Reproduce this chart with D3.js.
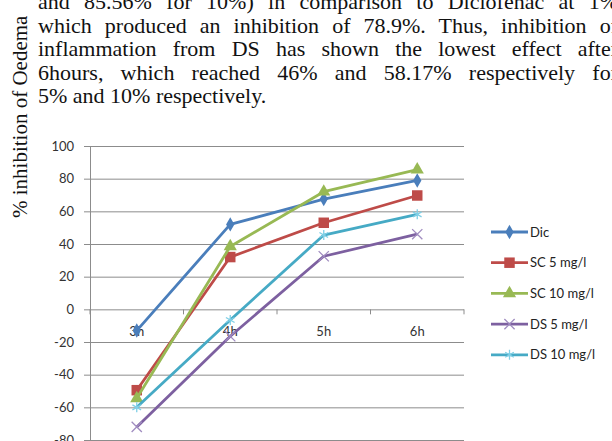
<!DOCTYPE html>
<html>
<head>
<meta charset="utf-8">
<script src="https://cdn.jsdelivr.net/npm/d3@7"></script>
<style>
  body { margin: 0; background: #fff; }
  svg { display: block; }
</style>
</head>
<body>
<div id="chart"></div>
<script>
// % inhibition of oedema line chart (with the paragraph above it)

const width = 612,
    height = 441,
    margin = ({ top: 146, right: 148, bottom: 1, left: 90 });

const hours = ["3h", "4h", "5h", "6h"];
const yTicks = [-80, -60, -40, -20, 0, 20, 40, 60, 80, 100];
const seriesNames = ["Dic", "SC 5 mg/l", "SC 10 mg/l", "DS 5 mg/l", "DS 10 mg/l"];
const dic = [-13, 52, 67.5, 78.9];
const sc5 = [-49.5, 32, 53, 69.7];
const sc10 = [-54.5, 38.5, 72, 85.56];
const ds5 = [-72, -16.5, 32.5, 46];
const ds10 = [-60, -6.5, 45.5, 58.17];

const paragraph = [
    "and 85.56% for 10%) in comparison to Diclofenac at 1%",
    "which produced an inhibition of 78.9%. Thus, inhibition of",
    "inflammation from DS has shown the lowest effect after",
    "6hours, which reached 46% and 58.17% respectively for",
    "5% and 10% respectively."
];
const yLabel = "% inhibition of Oedema";

const colors = ["#4a7ebb", "#be4b48", "#98b954", "#7d60a0", "#46aac5"];
const markerColors = ["#4a7ebb", "#be4b48", "#98b954", "#a08cc0", "#7fcfe6"];
const allSeries = [dic, sc5, sc10, ds5, ds10];

let svg = d3.select("#chart")
    .append("svg")
    .attr("width", width)
    .attr("height", height)
    .attr("viewBox", [0, 0, width, height]);

// paragraph text, justified with word spacing (runs off the right edge like the scan)
let para = svg.append("g")
    .attr("font-family", "'Liberation Serif', 'Times New Roman', serif")
    .attr("font-size", 22)
    .attr("fill", "#111");

para.selectAll("text")
    .data(paragraph)
    .join("text")
    .attr("x", 38)
    .attr("y", (d, i) => 9 + i * 23.5)
    .text(d => d)
    .each(function (d, i) {
        if (i === paragraph.length - 1) return;
        let natural = this.getComputedTextLength();
        let gaps = d.split(" ").length - 1;
        let extra = (580 - natural) / gaps;
        if (extra > 0) d3.select(this).attr("word-spacing", extra);
    });

// rotated axis title
svg.append("text")
    .attr("transform", "translate(27,218) rotate(-90)")
    .attr("font-family", "'Liberation Serif', 'Times New Roman', serif")
    .attr("font-size", 21)
    .attr("fill", "#111")
    .text(yLabel);

let x = d3.scaleBand()
    .domain(hours)
    .range([margin.left, width - margin.right]);

let y = d3.scaleLinear()
    .domain([-80, 100])
    .range([height - margin.bottom, margin.top]);

// horizontal gridlines + y axis labels
svg.append("g")
    .attr("transform", `translate(${margin.left},0)`)
    .call(d3.axisLeft(y).tickValues(yTicks).tickFormat(d => String(d)).tickSize(6).tickPadding(10).tickSizeOuter(0))
    .call(g => g.select(".domain").attr("stroke", "#8c8c8c"))
    .call(g => g.selectAll(".tick line").clone()
        .attr("x2", width - margin.right - margin.left)
        .attr("stroke", "#8c8c8c"))
    .call(g => g.selectAll(".tick line").attr("stroke", "#8c8c8c"))
    .call(g => g.selectAll(".tick text")
        .attr("font-family", "Lato, 'Open Sans', sans-serif")
        .attr("font-size", 13)
        .attr("fill", "#333"));

// category axis sits on zero line
let boundaries = hours.map(h => x(h)).concat([x.range()[1]]);
svg.append("g")
    .attr("stroke", "#8c8c8c")
    .selectAll("line")
    .data(boundaries)
    .join("line")
    .attr("x1", d => d)
    .attr("x2", d => d)
    .attr("y1", y(0))
    .attr("y2", y(0) + 5);

svg.append("g")
    .attr("font-family", "Lato, 'Open Sans', sans-serif")
    .attr("font-size", 13)
    .attr("fill", "#333")
    .attr("text-anchor", "middle")
    .selectAll("text")
    .data(hours)
    .join("text")
    .attr("x", d => x(d) + x.bandwidth() / 2)
    .attr("y", y(0) + 27)
    .text(d => d);

// marker shapes
const symTimes = d3.symbolTimes || d3.symbolCross;
const symStar = d3.symbolAsterisk || d3.symbolCross;
const shapes = [
    { type: d3.symbolDiamond, size: 60, fill: true },
    { type: d3.symbolSquare, size: 110, fill: true },
    { type: d3.symbolTriangle, size: 75, fill: true },
    { type: symTimes, size: 70, fill: false },
    { type: symStar, size: 70, fill: false }
];

let line = d3.line()
    .x((d, i) => x(hours[i]) + x.bandwidth() / 2)
    .y(d => y(d));

function drawMarker(sel, k) {
    let s = shapes[k];
    sel.attr("d", d3.symbol().type(s.type).size(s.size))
        .attr("fill", s.fill ? markerColors[k] : "none")
        .attr("stroke", markerColors[k])
        .attr("stroke-width", s.fill ? 0 : 1.3);
}

allSeries.forEach((vals, k) => {
    svg.append("path")
        .datum(vals)
        .attr("d", line)
        .attr("fill", "none")
        .attr("stroke", colors[k])
        .attr("stroke-width", 2.8)
        .attr("stroke-linejoin", "round");

    svg.append("g")
        .selectAll("path")
        .data(vals)
        .join("path")
        .attr("transform", (d, i) => `translate(${x(hours[i]) + x.bandwidth() / 2},${y(d)})`)
        .call(drawMarker, k);
});

// legend
let legend = svg.append("g")
    .selectAll("g")
    .data(seriesNames)
    .join("g")
    .attr("transform", (d, i) => `translate(491,${232 + i * 30.7})`);

legend.append("line")
    .attr("x1", 0)
    .attr("x2", 37)
    .attr("stroke", (d, i) => colors[i])
    .attr("stroke-width", 2.8);

legend.append("path")
    .attr("transform", "translate(18.5,0)")
    .each(function (d, i) { d3.select(this).call(drawMarker, i); });

legend.append("text")
    .attr("x", 39)
    .attr("dy", "0.35em")
    .attr("font-family", "Lato, 'Open Sans', sans-serif")
    .attr("font-size", 13)
    .attr("fill", "#222")
    .text(d => d);
</script>
</body>
</html>
